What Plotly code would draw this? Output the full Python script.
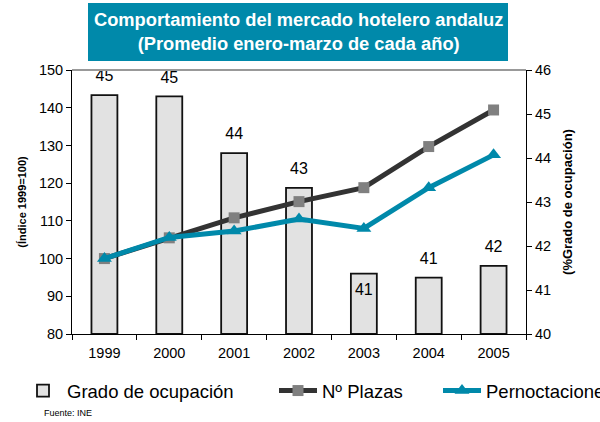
import plotly.graph_objects as go

years = ["1999", "2000", "2001", "2002", "2003", "2004", "2005"]
ocupacion = [45.43, 45.40, 44.11, 43.32, 41.37, 41.28, 41.55]
ocupacion_labels = ["45", "45", "44", "43", "41", "41", "42"]
ocupacion_textpos = ["top center", "top center", "top center", "top center",
                     "bottom center", "top center", "top center"]
plazas = [100, 105.5, 110.8, 115.1, 118.8, 129.7, 139.4]
pernoctaciones = [100, 105.6, 107.3, 110.5, 108.0, 118.8, 127.5]

FONT = "Arial, Liberation Sans, sans-serif"
TEAL = "#0089AA"

fig = go.Figure()

fig.add_trace(go.Bar(
    x=years, y=[v - 40 for v in ocupacion], base=40,
    name="Grado de ocupación",
    width=0.4,
    marker=dict(color="#e2e2e2", line=dict(color="#111111", width=1.8)),
    yaxis="y", legend="legend", hoverinfo="skip",
))

fig.add_trace(go.Scatter(
    x=years, y=ocupacion, mode="markers+text", text=ocupacion_labels,
    textposition=ocupacion_textpos,
    textfont=dict(size=16, color="black", family=FONT),
    marker=dict(size=14, opacity=0), showlegend=False, hoverinfo="skip",
    yaxis="y", cliponaxis=False,
))

fig.add_trace(go.Scatter(
    x=years, y=plazas, name="Nº Plazas", mode="lines+markers",
    line=dict(color="#333333", width=5),
    marker=dict(symbol="square", size=11, color="#808080"),
    yaxis="y2", legend="legend2", cliponaxis=False,
))

fig.add_trace(go.Scatter(
    x=years, y=pernoctaciones, name="Pernoctaciones", mode="lines+markers",
    line=dict(color=TEAL, width=5),
    marker=dict(symbol="triangle-up", size=13, color=TEAL),
    yaxis="y2", legend="legend3", cliponaxis=False,
))

legend_common = dict(orientation="h", yanchor="middle", y=-0.216, xanchor="left",
                     font=dict(size=18.5, family=FONT, color="black"),
                     bgcolor="rgba(0,0,0,0)", itemwidth=38, tracegroupgap=0,
                     borderwidth=0)

fig.update_layout(
    width=600, height=422,
    margin=dict(l=72, r=74, t=70, b=88, autoexpand=False),
    paper_bgcolor="white", plot_bgcolor="white",
    font=dict(family=FONT, color="black"),
    showlegend=True,
    legend=dict(x=(19 - 72) / 454, **legend_common),
    legend2=dict(x=(274 - 72) / 454, **legend_common),
    legend3=dict(x=(438 - 72) / 454, **legend_common),
    xaxis=dict(
        type="category", showline=True, linecolor="black", linewidth=1,
        ticks="outside", ticklen=5, tickcolor="black", tickson="boundaries",
        tickfont=dict(size=14.5, family=FONT), showgrid=False, ticklabelstandoff=6,
    ),
    yaxis=dict(
        range=[40, 46], dtick=1, side="right", showline=True, linecolor="black",
        linewidth=1, ticks="outside", ticklen=5, tickcolor="black", showgrid=False,
        zeroline=False, tickfont=dict(size=14.5, family=FONT),
        title=dict(text="<b>(%Grado de ocupación)</b>", font=dict(size=13, family=FONT), standoff=12),
    ),
    yaxis2=dict(
        range=[80, 150], dtick=10, side="left", overlaying="y", showline=True,
        linecolor="black", linewidth=1, ticks="outside", ticklen=5, tickcolor="black",
        showgrid=False, zeroline=False, tickfont=dict(size=14.5, family=FONT),
        title=dict(text="<b>(Índice 1999=100)</b>", font=dict(size=11, family=FONT), standoff=10),
    ),
    shapes=[
        dict(type="line", xref="paper", yref="paper", x0=0, x1=1, y0=1, y1=1,
             line=dict(color="#999999", width=1.8)),
        dict(type="rect", xref="paper", yref="paper",
             x0=(88 - 72) / 454, x1=(508 - 72) / 454,
             y0=(334 - 61) / 264, y1=(334 - 3) / 264,
             fillcolor=TEAL, line=dict(width=0), layer="above"),
    ],
    annotations=[
        dict(text="<b>Comportamiento del mercado hotelero andaluz<br>(Promedio enero-marzo de cada año)</b>",
             xref="paper", yref="paper", x=(298 - 72) / 454, y=(334 - 32) / 264,
             xanchor="center", yanchor="middle", showarrow=False,
             font=dict(size=18.3, color="white", family=FONT)),
        dict(text="Fuente: INE", xref="paper", yref="paper",
             x=(42 - 72) / 454, y=(334 - 413) / 264, xanchor="left", yanchor="middle",
             showarrow=False, font=dict(size=9, family=FONT, color="black")),
    ],
)

fig.write_html("out.html", config={"displayModeBar": False},
               post_script="document.body.style.margin='0';")
